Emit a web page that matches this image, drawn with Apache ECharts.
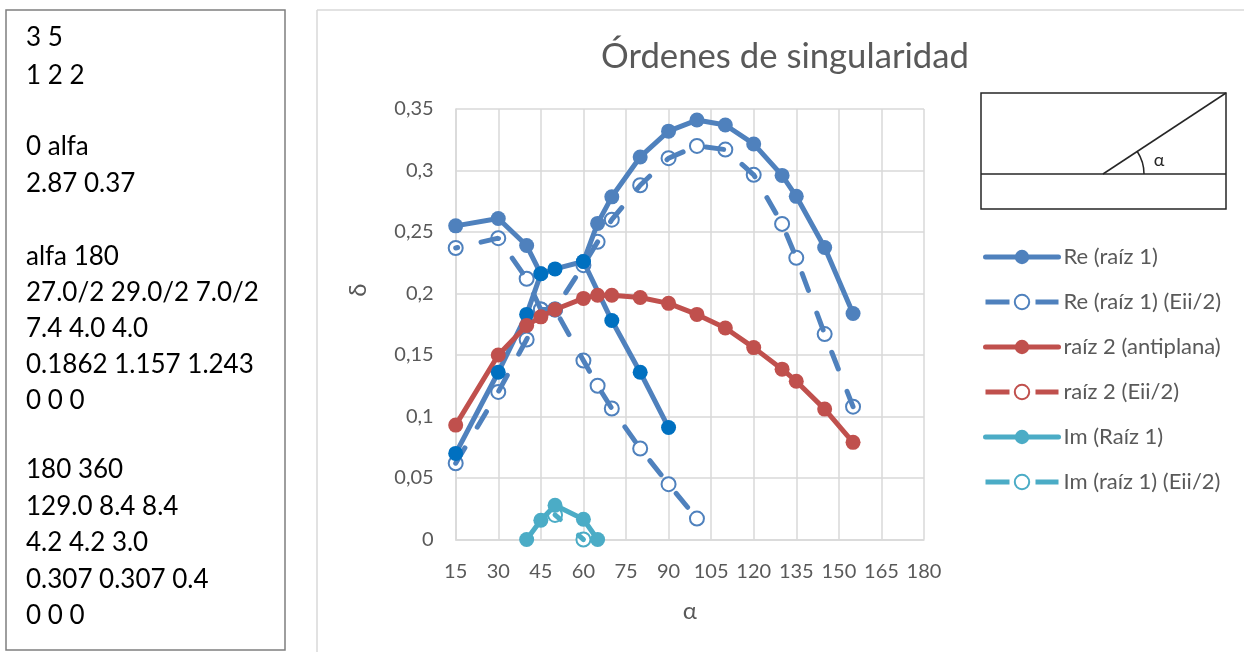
<!DOCTYPE html>
<html>
<head>
<meta charset="utf-8">
<style>
  html, body { margin: 0; padding: 0; background: #fff; }
  #chart { width: 1244px; height: 652px; }
</style>
<script src="https://cdn.jsdelivr.net/npm/echarts@6/dist/echarts.min.js"></script>
</head>
<body>
<div id="chart"></div>
<script>
// tramo superior izquierdo y tramo derecho de Re (raiz 1)
const reLeftAlpha = [15, 30, 40, 45];
const reLeftValues = [0.255, 0.261, 0.239, 0.216];
const reRightAlpha = [60, 65, 70, 80, 90, 100, 110, 120, 130, 135, 145, 155];
const reRightValues = [0.226, 0.257, 0.2786, 0.311, 0.332, 0.341, 0.337, 0.3216, 0.296, 0.279, 0.2374, 0.1837];
// tramo con marcadores oscuros
const reDarkAlpha = [15, 30, 40, 45, 50, 60, 70, 80, 90];
const reDarkValues = [0.07, 0.136, 0.183, 0.216, 0.22, 0.226, 0.178, 0.136, 0.091];

const reEiiFallAlpha = [15, 30, 40, 45, 50, 60, 65, 70, 80, 90, 100];
const reEiiFallValues = [0.237, 0.245, 0.212, 0.187, 0.187, 0.1455, 0.125, 0.1065, 0.074, 0.045, 0.017];
const reEiiRiseAlpha = [15, 30, 40, 45, 50, 60, 65, 70, 80, 90, 100, 110, 120, 130, 135, 145, 155];
const reEiiRiseValues = [0.062, 0.12, 0.1626, 0.187, 0.187, 0.223, 0.242, 0.26, 0.288, 0.31, 0.32, 0.317, 0.2965, 0.2566, 0.229, 0.167, 0.108];

const raiz2Alpha = [15, 30, 40, 45, 50, 60, 65, 70, 80, 90, 100, 110, 120, 130, 135, 145, 155];
const raiz2Values = [0.093, 0.15, 0.174, 0.181, 0.187, 0.196, 0.1986, 0.1986, 0.1967, 0.192, 0.183, 0.172, 0.156, 0.1385, 0.1287, 0.106, 0.079];

const imAlpha = [40, 45, 50, 60, 65];
const imValues = [0, 0.0157, 0.0279, 0.0165, 0];
const imEiiAlpha = [50, 60];
const imEiiValues = [0.02, 0];

const legendNames = ['Re (raíz 1)', 'Re (raíz 1) (Eii/2)', 'raíz 2 (antiplana)', 'raíz 2 (Eii/2)', 'Im (Raíz 1)', 'Im (raíz 1) (Eii/2)'];

const boxLines = [
  ['3 5', 38], ['1 2 2', 76],
  ['0 alfa', 147], ['2.87 0.37', 184],
  ['alfa 180', 257], ['27.0/2 29.0/2 7.0/2', 293], ['7.4 4.0 4.0', 329], ['0.1862 1.157 1.243', 365], ['0 0 0', 401],
  ['180 360', 470], ['129.0 8.4 8.4', 507], ['4.2 4.2 3.0', 543], ['0.307 0.307 0.4', 580], ['0 0 0', 616]
];

const BLUE = '#4F81BD';
const DARK = '#0070C0';
const RED = '#C0504D';
const TEAL = '#4BACC6';
const GRID = '#D9D9D9';
const LABEL = '#595959';
const FONT = 'Lato';

const zip = (xs, ys) => xs.map((x, i) => [x, ys[i]]);

const solid = (name, xs, ys, color, markerColor) => ({
  name,
  type: 'line',
  z: 4,
  data: zip(xs, ys),
  symbol: 'circle',
  symbolSize: 15,
  showAllSymbol: true,
  clip: false,
  itemStyle: { color: markerColor || color },
  lineStyle: { color, width: 5, cap: 'round' },
  emphasis: { disabled: true }
});

// el trazo discontinuo pasa por encima del relleno blanco, por eso van dos series
const dashedMarks = (xs, ys, color) => ({
  name: 'marcas',
  type: 'line',
  z: 2,
  data: zip(xs, ys),
  symbol: 'circle',
  symbolSize: 14,
  showAllSymbol: true,
  clip: false,
  itemStyle: { color: '#fff', borderColor: color, borderWidth: 2 },
  lineStyle: { width: 0, opacity: 0 },
  emphasis: { disabled: true }
});
const dashedLine = (name, xs, ys, color, dashOffset) => ({
  name,
  type: 'line',
  z: 3,
  data: zip(xs, ys),
  symbol: 'emptyCircle',
  showSymbol: false,
  clip: false,
  itemStyle: { color },
  lineStyle: { color, width: 5, type: [18, 24], dashOffset, cap: 'round' },
  emphasis: { disabled: true }
});

const textBox = boxLines.map(([text, y]) => ({
  type: 'text',
  style: { x: 26, y, text, font: '26px ' + FONT, fill: '#000', verticalAlign: 'middle' }
}));

const inset = [
  { type: 'rect', shape: { x: 981, y: 93, width: 245, height: 116 }, style: { fill: '#fff', stroke: '#262626', lineWidth: 1.5 } },
  { type: 'line', shape: { x1: 981, y1: 174, x2: 1226, y2: 174 }, style: { stroke: '#262626', lineWidth: 1.5 } },
  { type: 'line', shape: { x1: 1103, y1: 174, x2: 1226, y2: 93 }, style: { stroke: '#262626', lineWidth: 1.5 } },
  { type: 'arc', shape: { cx: 1103, cy: 174, r: 41, startAngle: -Math.PI * 0.185, endAngle: 0 }, style: { fill: null, stroke: '#262626', lineWidth: 1.5 } },
  { type: 'text', style: { x: 1159, y: 160, text: 'α', font: '18px ' + FONT, fill: '#262626', align: 'center', verticalAlign: 'middle' } }
];

const chart = echarts.init(document.getElementById('chart'), null, { renderer: 'canvas' });

chart.setOption({
  animation: false,
  backgroundColor: '#fff',
  title: {
    text: 'Órdenes de singularidad',
    left: 780,
    top: 34,
    textAlign: 'center',
    textStyle: { color: LABEL, fontFamily: FONT, fontWeight: 'normal', fontSize: 34.7 }
  },
  grid: { left: 455.7, right: 320, top: 109, bottom: 112.5 },
  xAxis: {
    type: 'value',
    min: 15,
    max: 180,
    interval: 15,
    name: 'α',
    nameLocation: 'middle',
    nameGap: 60,
    nameTextStyle: { color: LABEL, fontFamily: FONT, fontSize: 24 },
    axisLine: { onZero: false, lineStyle: { color: GRID, width: 1.5 } },
    axisTick: { show: false },
    axisLabel: { color: LABEL, fontFamily: FONT, fontSize: 20, margin: 22 },
    splitLine: { show: true, lineStyle: { color: GRID, width: 1.5 } }
  },
  yAxis: {
    type: 'value',
    min: 0,
    max: 0.35,
    interval: 0.05,
    name: 'δ',
    nameLocation: 'middle',
    nameGap: 85,
    nameTextStyle: { color: LABEL, fontFamily: FONT, fontSize: 24, padding: [0, 0, 0, 68] },
    axisLine: { show: true, lineStyle: { color: GRID, width: 1.5 } },
    axisTick: { show: false },
    axisLabel: {
      color: LABEL,
      fontFamily: FONT,
      fontSize: 20,
      margin: 22,
      formatter: (v) => String(+v.toFixed(2)).replace('.', ',')
    },
    splitLine: { show: true, lineStyle: { color: GRID, width: 1.5 } }
  },
  legend: {
    orient: 'vertical',
    left: 983,
    top: 246,
    itemWidth: 73,
    itemHeight: 18,
    itemGap: 23,
    padding: 0,
    selectedMode: false,
    textStyle: { color: LABEL, fontFamily: FONT, fontSize: 22 },
    data: legendNames.map((name, i) => (
      i % 2
        ? { name, lineStyle: { width: 5, type: [24, 26], dashOffset: 0, cap: 'butt' } }
        : { name, lineStyle: { width: 5, cap: 'round' } }
    ))
  },
  series: [
    solid(legendNames[0], reLeftAlpha, reLeftValues, BLUE),
    solid(legendNames[0], reRightAlpha, reRightValues, BLUE),
    dashedMarks(reEiiFallAlpha, reEiiFallValues, BLUE),
    dashedMarks(reEiiRiseAlpha, reEiiRiseValues, BLUE),
    dashedLine(legendNames[1], reEiiFallAlpha, reEiiFallValues, BLUE, 16),
    dashedLine(legendNames[1], reEiiRiseAlpha, reEiiRiseValues, BLUE, 0),
    solid(legendNames[0], reDarkAlpha, reDarkValues, BLUE, DARK),
    solid(legendNames[2], raiz2Alpha, raiz2Values, RED),
    // esta serie no se ve en el original, queda tapada; solo aparece en la leyenda
    dashedLine(legendNames[3], [], [], RED, 0),
    dashedMarks(imEiiAlpha, imEiiValues, TEAL),
    dashedLine(legendNames[5], imEiiAlpha, imEiiValues, TEAL, 11),
    solid(legendNames[4], imAlpha, imValues, TEAL)
  ],
  graphic: [
    { type: 'rect', silent: true, z: -1, shape: { x: 6, y: 10, width: 279, height: 640 }, style: { fill: '#fff', stroke: '#7F7F7F', lineWidth: 1.5 } },
    { type: 'line', silent: true, z: -1, shape: { x1: 317, y1: 10, x2: 317, y2: 652 }, style: { stroke: GRID, lineWidth: 1.5 } },
    { type: 'line', silent: true, z: -1, shape: { x1: 317, y1: 10, x2: 1244, y2: 10 }, style: { stroke: GRID, lineWidth: 1.5 } },
    ...textBox,
    ...inset
  ]
});

window.addEventListener('resize', () => chart.resize());
</script>
</body>
</html>
